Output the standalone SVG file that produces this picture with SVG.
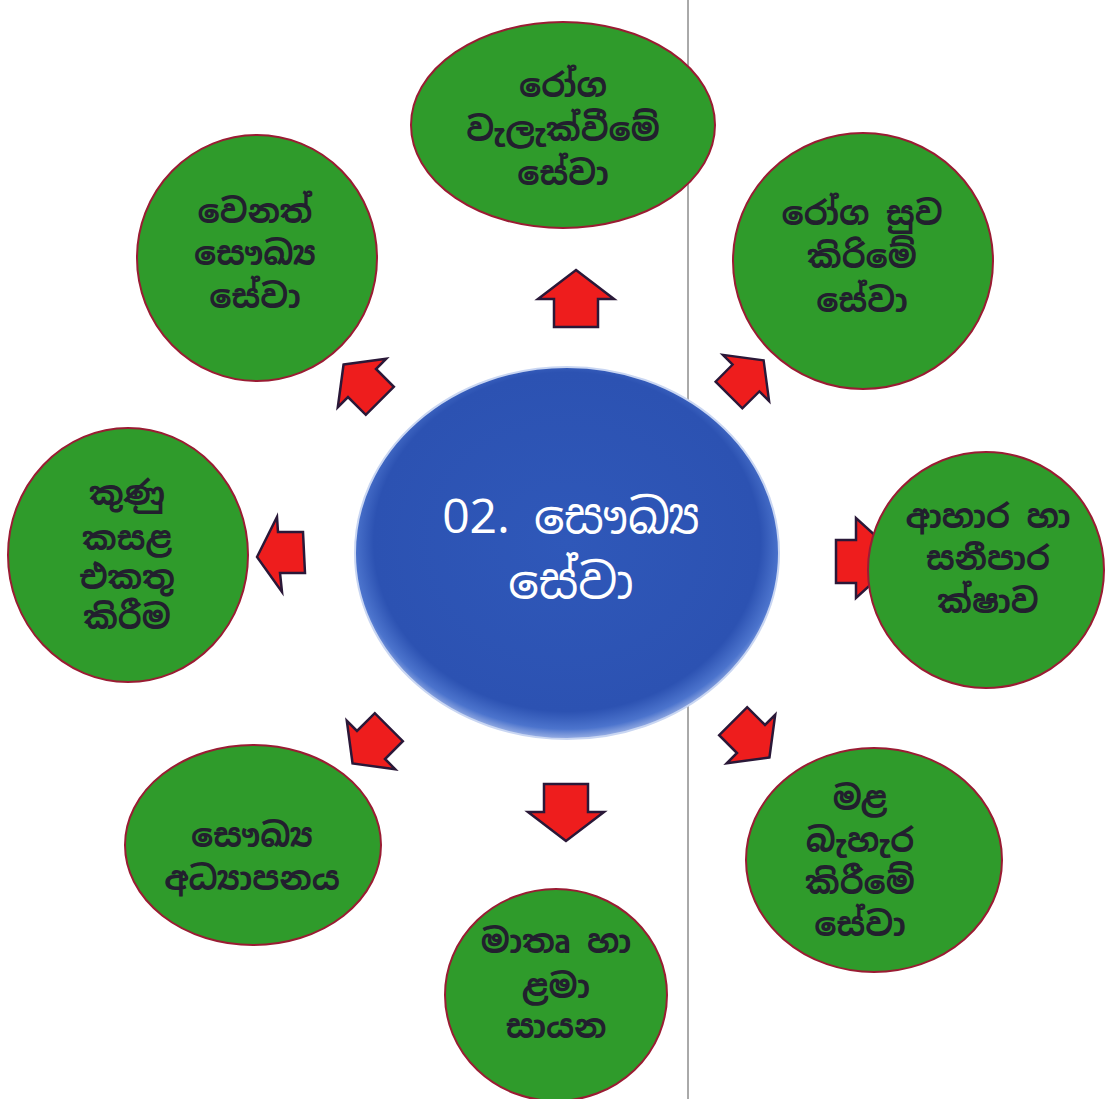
<svg xmlns="http://www.w3.org/2000/svg" xmlns:xlink="http://www.w3.org/1999/xlink" width="1110" height="1099" viewBox="0 0 1110 1099">
<style>
.g{fill:#2f9b2b;stroke:#9a1c33;stroke-width:2}
.t{font-family:"Noto Sans Sinhala","Iskoola Pota","Noto Sans",sans-serif;font-weight:bold;font-size:33px;fill:#22202e;text-anchor:middle}
.c{font-family:"Noto Sans Sinhala","Noto Sans","DejaVu Sans",sans-serif;font-size:48px;fill:#ffffff;text-anchor:middle}
.a{fill:#ee1d1d;stroke:#2a1838;stroke-width:2.5;stroke-linejoin:miter}
.d{stroke-width:2.8}
</style>
<defs>
<radialGradient id="bg" cx="0.5" cy="0.47" r="0.53">
<stop offset="0" stop-color="#2f58b9"/>
<stop offset="0.86" stop-color="#2c52b2"/>
<stop offset="0.95" stop-color="#4c74cd"/>
<stop offset="1" stop-color="#9ab0e4"/>
</radialGradient>
<polygon id="arr" points="0,-29 38,0 22,0 22,28 -22,28 -22,0 -38,0"/>
</defs>
<rect width="1110" height="1099" fill="#ffffff"/>
<line x1="688" y1="0" x2="688" y2="1099" stroke="#555" stroke-width="1"/>

<g id="connectors">
<use href="#arr" class="a" transform="translate(576,299)"/>
<use href="#arr" class="a" transform="translate(566,812) rotate(180)"/>
<polygon class="a" points="257,557 277,517 278,532 303,532 305,573 280,573 282,592"/>
<polygon class="a" points="836,540 856,540 856,518 900,558 856,598 856,583 836,583"/>
<use href="#arr" class="a d" transform="translate(746,378) rotate(45) scale(0.86)"/>
<use href="#arr" class="a d" transform="translate(362,383) rotate(-45) scale(0.9)"/>
<use href="#arr" class="a d" transform="translate(371,745) rotate(-135) scale(0.9)"/>
<use href="#arr" class="a d" transform="translate(751,739) rotate(135) scale(0.9)"/>
</g>

<g id="center">
<ellipse cx="567" cy="553" rx="212" ry="186" fill="url(#bg)" stroke="#c9d6f2" stroke-width="2"/>
<text class="c" x="571" y="533">02. සෞඛ්‍ය</text>
<text class="c" x="571" y="598">සේවා</text>
</g>

<g id="n-top">
<ellipse class="g" cx="563" cy="125" rx="152" ry="103"/>
<text class="t" x="563" y="97">රෝග</text>
<text class="t" x="563" y="141">වැලැක්වීමේ</text>
<text class="t" x="563" y="185">සේවා</text>
</g>

<g id="n-upleft">
<ellipse class="g" cx="257" cy="258" rx="120" ry="123"/>
<text class="t" x="255" y="223">වෙනත්</text>
<text class="t" x="255" y="265">සෞඛ්‍ය</text>
<text class="t" x="255" y="308">සේවා</text>
</g>

<g id="n-upright">
<ellipse class="g" cx="863" cy="261" rx="130" ry="128"/>
<text class="t" x="862" y="225">රෝග සුව</text>
<text class="t" x="862" y="268">කිරිමේ</text>
<text class="t" x="862" y="312">සේවා</text>
</g>

<g id="n-left">
<ellipse class="g" cx="128" cy="555" rx="120" ry="127"/>
<text class="t" x="127" y="505">කුණු</text>
<text class="t" x="127" y="550">කසළ</text>
<text class="t" x="127" y="589">එකතු</text>
<text class="t" x="127" y="629">කිරීම</text>
</g>

<g id="n-right">
<ellipse class="g" cx="986" cy="570" rx="118" ry="118"/>
<text class="t" x="988" y="528">ආහාර හා</text>
<text class="t" x="988" y="570">සනීපාර</text>
<text class="t" x="988" y="613">ක්ෂාව</text>
</g>

<g id="n-lowleft">
<ellipse class="g" cx="253" cy="845" rx="128" ry="100"/>
<text class="t" x="252" y="847">සෞඛ්‍ය</text>
<text class="t" x="252" y="890">අධ්‍යාපනය</text>
</g>

<g id="n-bottom">
<ellipse class="g" cx="556" cy="995" rx="111" ry="106"/>
<text class="t" x="556" y="953">මාතෘ හා</text>
<text class="t" x="556" y="998">ළමා</text>
<text class="t" x="556" y="1038">සායන</text>
</g>

<g id="n-lowright">
<ellipse class="g" cx="874" cy="860" rx="128" ry="112"/>
<text class="t" x="860" y="810">මළ</text>
<text class="t" x="860" y="852">බැහැර</text>
<text class="t" x="860" y="894">කිරීමේ</text>
<text class="t" x="860" y="936">සේවා</text>
</g>
</svg>
